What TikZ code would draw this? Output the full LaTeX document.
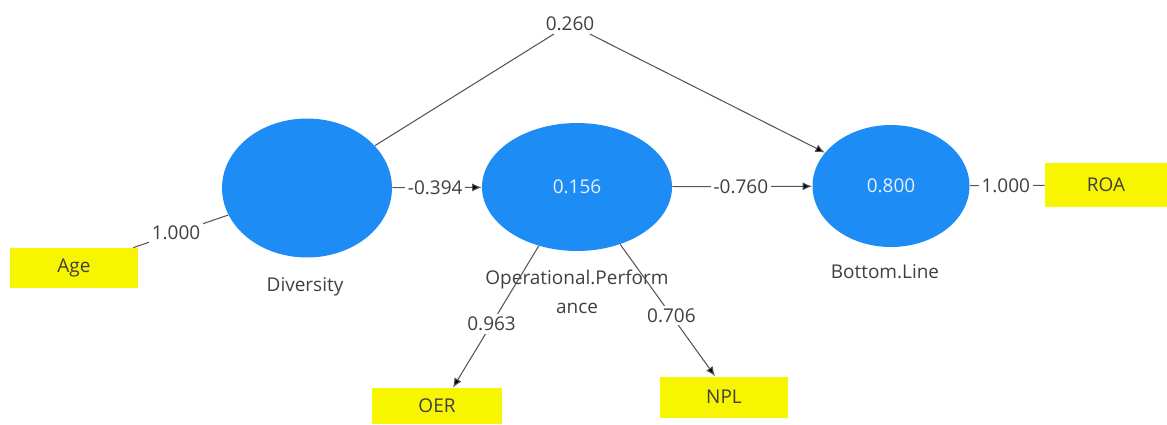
\documentclass[tikz,border=0pt]{standalone}
\usepackage{fontspec}
\setmainfont{Open Sans}
\usepackage{tikz}
\usepackage{xcolor}
\usetikzlibrary{arrows.meta,positioning,shapes.geometric}
\definecolor{latentblue}{HTML}{1E8CF5}
\definecolor{indyellow}{HTML}{F8F500}
\definecolor{ink}{HTML}{404040}
\definecolor{wire}{HTML}{555555}
\definecolor{valtext}{HTML}{E4F1FF}
\tikzset{
  latent/.style={ellipse,fill=latentblue,draw=none,inner sep=0pt,
                 font=\fontsize{10.8}{13}\selectfont,text=valtext},
  indicator/.style={rectangle,fill=indyellow,draw=none,inner sep=0pt,
                    minimum width=2.56cm,minimum height=0.8cm,
                    font=\fontsize{10.8}{13}\selectfont,text=ink},
  latname/.style={align=center,font=\fontsize{10.8}{16.5}\selectfont,text=ink},
  pathlbl/.style={fill=white,inner sep=1.5pt,font=\fontsize{10.8}{13}\selectfont,text=ink},
  plainwire/.style={draw=wire,line width=0.6pt},
  patharr/.style={plainwire,-{Latex[length=1.9mm,width=1.6mm,fill=black]}}
}
\begin{document}
\begin{tikzpicture}[x=0.02cm,y=-0.02cm]
  \useasboundingbox (0,0) rectangle (1167,424);
  % constructs
  \node[latent,minimum width=3.4cm,minimum height=2.78cm] (div) at (307,188) {};
  \node[latent,minimum width=3.8cm,minimum height=2.56cm] (op) at (577,187) {0.156};
  \node[latent,minimum width=3.14cm,minimum height=2.44cm] (bl) at (891,186) {0.800};
  \node[latname] (divname) at (305,287) {Diversity};
  \node[latname] (opname) at (577,292) {Operational.Perform\\ance};
  \node[latname] (blname) at (885,272) {Bottom.Line};
  % indicators
  \node[indicator] (age) at (74,268) {Age};
  \node[indicator,minimum width=2.6cm,minimum height=0.72cm] (oer) at (437,406) {OER};
  \node[indicator,minimum height=0.82cm] (npl) at (724,397) {NPL};
  \node[indicator,minimum width=2.44cm,minimum height=0.88cm] (roa) at (1106,185) {ROA};
  % paths
  \node[pathlbl] (w260) at (570,24) {0.260};
  \draw[plainwire] (div) -- (w260);
  \draw[patharr] (w260) -- (bl);
  \draw[patharr] (div) -- node[pathlbl,pos=0.48] {-0.394} (op);
  \draw[patharr] (op) -- node[pathlbl,pos=0.49] {-0.760} (bl);
  \draw[plainwire] (age) -- node[pathlbl,pos=0.45] {1.000} (div);
  \draw[plainwire] (bl) -- node[pathlbl,pos=0.48] {1.000} (roa);
  \draw[patharr] (op.237) -- node[pathlbl,pos=0.55] {0.963} ([xshift=0.32cm]oer.north);
  \draw[patharr] (op.307) -- node[pathlbl,pos=0.54] {0.706} ([xshift=-0.18cm]npl.north);
\end{tikzpicture}
\end{document}
